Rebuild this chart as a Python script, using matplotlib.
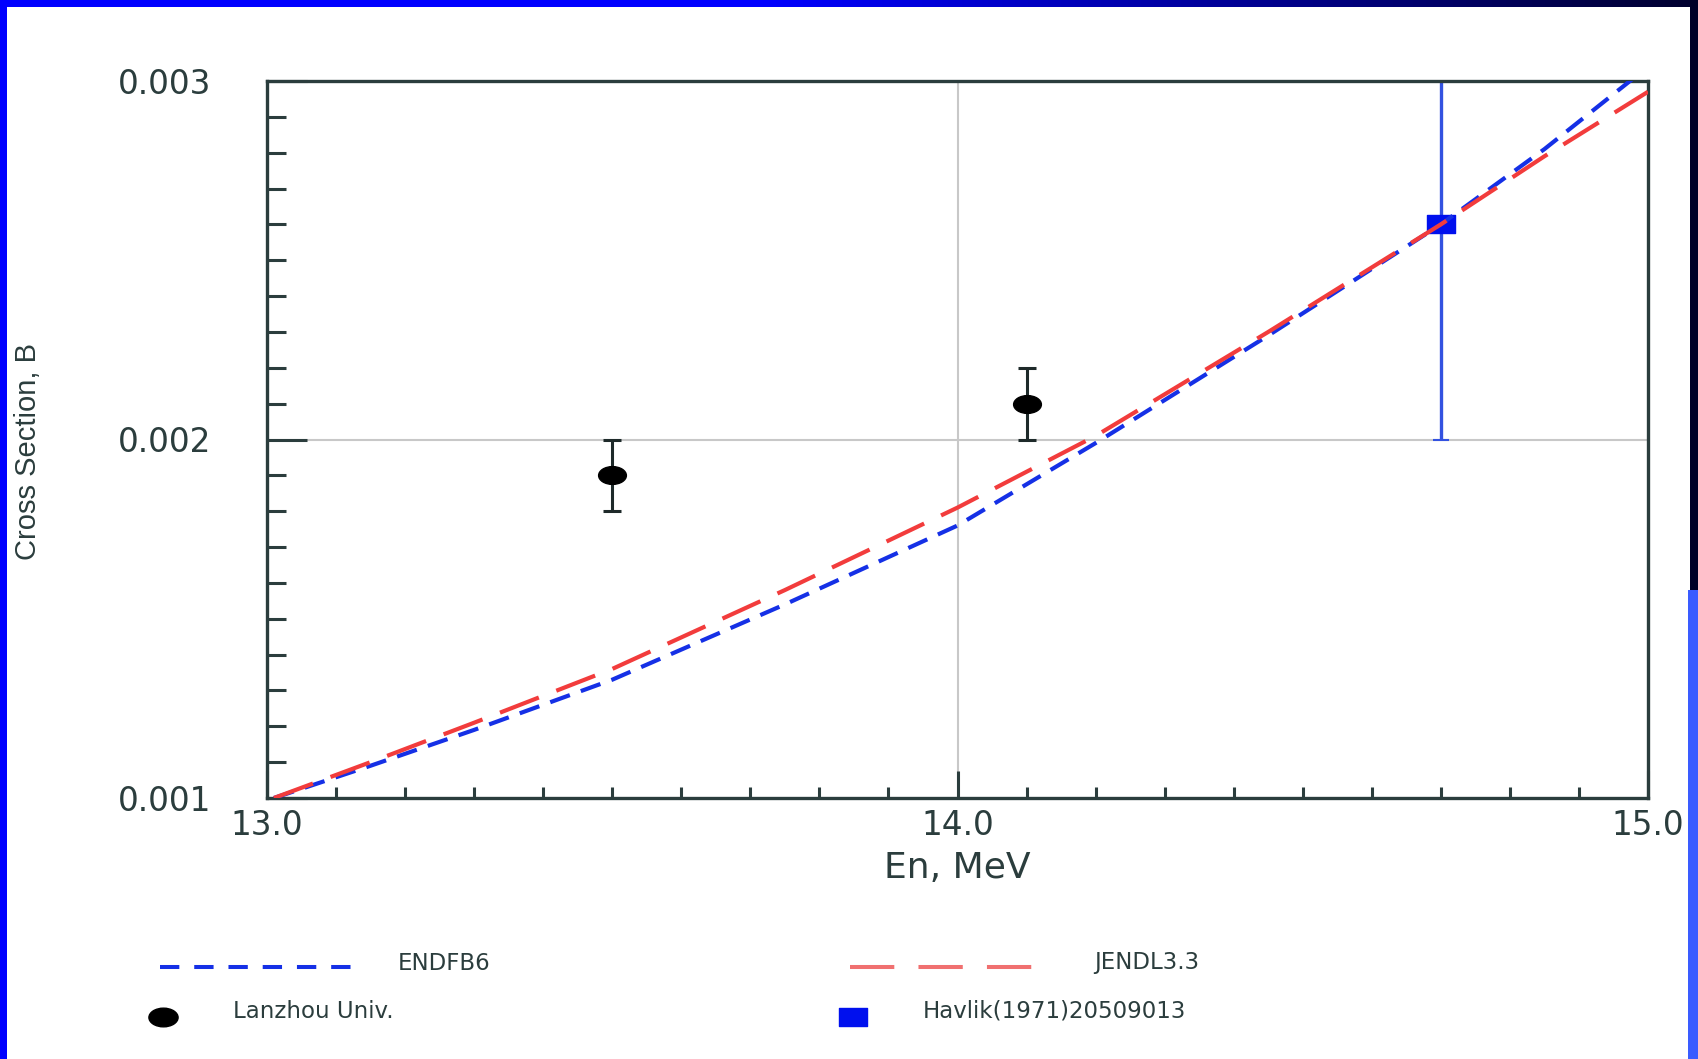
import numpy as np
import matplotlib
matplotlib.use('Agg')
from matplotlib import pyplot as plt
from matplotlib import font_manager
from matplotlib.path import Path
from matplotlib.transforms import Affine2D

# evaluated curves (En in MeV, cross section in barn)
energy = [13.01, 13.15, 13.3, 13.5, 13.75, 14.0, 14.2, 14.45, 14.7, 14.85, 15.0]
endfb6 = [0.00100, 0.00109, 0.00119, 0.00133, 0.00154, 0.00176, 0.00199, 0.00229,
          0.00260, 0.00281, 0.00304]
jendl33 = [0.00100, 0.00110, 0.00121, 0.00136, 0.00158, 0.00181, 0.00201, 0.00230,
           0.00260, 0.00279, 0.00297]

# measurements
lanzhou_e = [13.5, 14.1]
lanzhou_xs = [0.0019, 0.0021]
lanzhou_err = [0.0001, 0.0001]
havlik_e = [14.7]
havlik_xs = [0.0026]
havlik_err = [0.0006]

legend_labels = ['ENDFB6', 'JENDL3.3', 'Lanzhou Univ.', 'Havlik(1971)20509013']

installed = {f.name for f in font_manager.fontManager.ttflist}
narrow = 'Liberation Sans Narrow' if 'Liberation Sans Narrow' in installed else 'Liberation Sans'

ink = '#2b3d3d'
blue = '#1530e6'
red = '#f23c3c'

# squashed markers, like in the original slide
ellipse = Path.unit_circle().transformed(Affine2D().scale(1, 0.64))
rect = Path([(-1, -0.65), (1, -0.65), (1, 0.65), (-1, 0.65), (-1, -0.65)],
            [Path.MOVETO, Path.LINETO, Path.LINETO, Path.LINETO, Path.CLOSEPOLY])

fig = plt.figure(figsize=(16.98, 10.59), dpi=100)
fig.patch.set_facecolor('white')

W, H = 1698, 1059
ax = fig.add_axes([267 / W, 1 - 798 / H, 1381 / W, 717 / H])

ax.axvline(14.0, color='#c8c8c8', lw=1.5, zorder=0)
ax.axhline(0.002, color='#c8c8c8', lw=1.5, zorder=0)

ax.errorbar(havlik_e, havlik_xs, yerr=havlik_err, fmt='none', ecolor='#3352e0',
            elinewidth=2.4, capsize=6, capthick=1.5, zorder=2)
ax.plot(havlik_e, havlik_xs, ls='none', marker=rect, ms=19.5, color='#0010ee', zorder=2)
ax.errorbar(lanzhou_e, lanzhou_xs, yerr=lanzhou_err, fmt='none', ecolor='#1e2a2a',
            elinewidth=2.2, capsize=6.5, capthick=2.2, zorder=2)
ax.plot(lanzhou_e, lanzhou_xs, ls='none', marker=ellipse, ms=20, color='black', zorder=3)

ax.plot(energy, endfb6, color=blue, lw=3.0, dashes=(5, 2.8), zorder=4)
ax.plot(energy, jendl33, color=red, lw=3.0, dashes=(10, 4.5), zorder=5)

ax.set_xlim(13.0, 15.0)
ax.set_ylim(0.001, 0.003)
ax.set_xticks([13.0, 14.0, 15.0])
ax.set_xticks(np.arange(13.0, 15.0, 0.1), minor=True)
ax.set_yticks([0.001, 0.002, 0.003])
ax.set_yticks(np.arange(0.001, 0.003, 0.0001), minor=True)
ax.set_xticklabels(['13.0', '14.0', '15.0'])
ax.set_yticklabels(['0.001', '0.002', '0.003'])

for s in ax.spines.values():
    s.set_color(ink)
    s.set_linewidth(2.4)

ax.tick_params(axis='both', which='both', direction='in', color=ink, width=2.2,
               top=False, right=False, labelcolor=ink, labelsize=23.5)
ax.tick_params(axis='x', which='major', length=19.5, pad=8)
ax.tick_params(axis='x', which='minor', length=8)
ax.tick_params(axis='y', which='major', length=29, pad=40)
ax.tick_params(axis='y', which='minor', length=13.7)

ax.set_xlabel('En, MeV', fontsize=26, color=ink)
ax.xaxis.set_label_coords(0.5, -0.074)
ax.set_ylabel('Cross Section, B', fontsize=21, color=ink, family=narrow)
ax.yaxis.set_label_coords(-0.163, 0.483)

# overlay in pixel coords for the legend and the slide frame
lax = fig.add_axes([0, 0, 1, 1], zorder=-1)
lax.set_xlim(0, W)
lax.set_ylim(H, 0)
lax.axis('off')

lax.plot([160, 355], [967, 967], color=blue, lw=2.9, dashes=(4.8, 3.7))
lax.text(398, 963, legend_labels[0], fontsize=16.5, color=ink, va='center')
lax.plot([850, 1037], [967, 967], color='#f07070', lw=2.9, dashes=(11, 6))
lax.text(1094, 963, legend_labels[1], fontsize=16.5, color=ink, va='center')
lax.plot([163], [1017], ls='none', marker=ellipse, ms=21, color='black')
lax.text(233, 1011, legend_labels[2], fontsize=16.5, color=ink, va='center')
lax.plot([853], [1017], ls='none', marker=rect, ms=20, color='#0010ee')
lax.text(923, 1011, legend_labels[3], fontsize=16.5, color=ink, va='center')

# slide frame
grad = np.ones((1, 256, 3))
t = np.linspace(0, 1, 256)
k = np.clip((t - 0.45) / 0.55, 0, 1)
grad[0, :, 0] = 0
grad[0, :, 1] = 0
grad[0, :, 2] = 1 - 0.82 * k
frame = fig.add_axes([0, 0, 1, 1], zorder=10)
frame.axis('off')
frame.patch.set_alpha(0)
frame.imshow(grad, extent=[0, W, 7, 0], aspect='auto')
frame.add_patch(plt.Rectangle((0, 0), 7, H, color='#0000ff', lw=0))
frame.add_patch(plt.Rectangle((1690, 0), 8, 590, color='#000028', lw=0))
frame.add_patch(plt.Rectangle((1688, 590), 10, H - 590, color='#3a5cff', lw=0))
frame.set_xlim(0, W)
frame.set_ylim(H, 0)

fig.savefig('out.png', dpi=100)
